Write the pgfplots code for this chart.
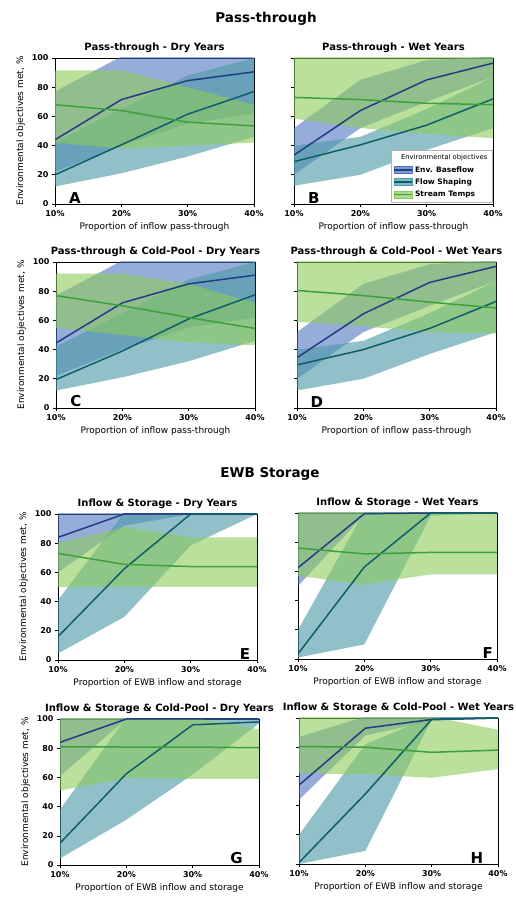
\documentclass[border=0pt]{standalone}
\usepackage{pgfplots}
\pgfplotsset{compat=1.18}
\usepackage{fontspec}
\setmainfont{DejaVu Sans}
\definecolor{cBl}{HTML}{233C82}
\definecolor{cBf}{HTML}{4A72C0}
\definecolor{cFl}{HTML}{0E5E6A}
\definecolor{cFf}{HTML}{4E9AA8}
\definecolor{cSl}{HTML}{3CA03C}
\definecolor{cSf}{HTML}{8CCB5A}
\pgfplotsset{
 panel/.style={
  scale only axis, width=199pt, height=146pt, anchor=south west,
  xmin=10,xmax=40,ymin=0,ymax=100,
  xtick={10,20,30,40}, xticklabels={10\%,20\%,30\%,40\%},
  ytick={0,20,40,60,80,100},
  tick align=outside, tick pos=left, major tick length=3pt,
  axis line style={line width=0.6pt},
  every tick/.style={black, line width=0.6pt},
  ticklabel style={font=\fontsize{8}{9}\selectfont\bfseries},
  /pgf/number format/assume math mode=true,
  title style={font=\fontsize{10}{11}\selectfont\bfseries, yshift=-4pt},
  label style={font=\fontsize{9}{10}\selectfont},
  xlabel style={yshift=1pt},
 },
 noyl/.style={yticklabels={}},
 yl/.style={ylabel={Environmental objectives met, \%}},
 bandB/.style={draw=none, fill=cBf, fill opacity=0.58, forget plot},
 bandF/.style={draw=none, fill=cFf, fill opacity=0.62, forget plot},
 bandS/.style={draw=none, fill=cSf, fill opacity=0.6, forget plot},
 lineB/.style={cBl, line width=1.5pt, forget plot},
 lineF/.style={cFl, line width=1.5pt, forget plot},
 lineS/.style={cSl, line width=1.5pt, forget plot},
}
\tikzset{letter/.style={font=\fontsize{15}{15}\selectfont\bfseries, anchor=south, inner sep=0pt}}
\begin{document}
\begin{tikzpicture}
\useasboundingbox (0pt,0pt) rectangle (516pt,899pt);
\node[font=\fontsize{13.5}{14}\selectfont\bfseries] at (266pt,880pt) {Pass-through};
\node[font=\fontsize{13.5}{14}\selectfont\bfseries] at (270pt,425pt) {EWB Storage};

% A
\begin{axis}[panel, at={(55pt,695pt)}, yl, title={Pass-through - Dry Years}, xlabel={Proportion of inflow pass-through}]
\addplot[bandB] coordinates {(10,77)(20,101)(30,108)(40,108)(40,62)(30,55)(20,40)(10,22)};
\addplot[bandF] coordinates {(10,42)(20,65)(30,88)(40,100)(40,46)(30,32.5)(20,21)(10,12)};
\addplot[bandS] coordinates {(10,91.5)(20,91.5)(30,80)(40,68)(40,42)(30,40)(20,38)(10,42)};
\addplot[lineB] coordinates {(10,44)(20,71.5)(30,84.5)(40,90.5)};
\addplot[lineF] coordinates {(10,20)(20,40.5)(30,61.5)(40,77)};
\addplot[lineS] coordinates {(10,68)(20,64)(30,56)(40,53.5)};
\node[letter] at (axis cs:13,0.5) {A};
\end{axis}

% B
\begin{axis}[panel, at={(294pt,695pt)}, noyl, title={Pass-through - Wet Years}, xlabel={Proportion of inflow pass-through},
 legend style={at={(rel axis cs:0.995,0.01)}, anchor=south east, font=\fontsize{7.5}{8}\selectfont\bfseries, draw=gray!60, inner sep=2.5pt, row sep=1pt},
 legend cell align=left]
\addplot[bandB] coordinates {(10,52)(20,85)(30,98.5)(40,101)(40,87)(30,70)(20,52)(10,20)};
\addplot[bandF] coordinates {(10,40)(20,46)(30,65)(40,87)(40,52)(30,37)(20,20)(10,12.5)};
\addplot[bandS] coordinates {(10,101)(20,101)(30,101)(40,101)(40,45)(30,48)(20,52)(10,58.5)};
\addplot[lineB] coordinates {(10,33.5)(20,64)(30,85)(40,96.5)};
\addplot[lineF] coordinates {(10,29)(20,40.5)(30,54)(40,72)};
\addplot[lineS] coordinates {(10,73)(20,71.5)(30,69)(40,68)};
\addlegendimage{empty legend}
\addlegendentry{\hspace{-14pt}\mdseries\fontsize{6.8}{7}\selectfont Environmental objectives}
\addlegendimage{legend image code/.code={\fill[cBf,fill opacity=0.7](0pt,-3.5pt) rectangle (18pt,3.5pt); \draw[cBl,line width=1.5pt](0pt,0pt)--(18pt,0pt);}}
\addlegendentry{Env. Baseflow}
\addlegendimage{legend image code/.code={\fill[cFf,fill opacity=0.7](0pt,-3.5pt) rectangle (18pt,3.5pt); \draw[cFl,line width=1.5pt](0pt,0pt)--(18pt,0pt);}}
\addlegendentry{Flow Shaping}
\addlegendimage{legend image code/.code={\fill[cSf,fill opacity=0.7](0pt,-3.5pt) rectangle (18pt,3.5pt); \draw[cSl,line width=1.5pt](0pt,0pt)--(18pt,0pt);}}
\addlegendentry{Stream Temps}
\node[letter] at (axis cs:13,0.5) {B};
\end{axis}

% C
\begin{axis}[panel, at={(56pt,491pt)}, yl, title={Pass-through \& Cold-Pool - Dry Years}, xlabel={Proportion of inflow pass-through}]
\addplot[bandB] coordinates {(10,77)(20,101)(30,108)(40,108)(40,62)(30,55)(20,40)(10,22)};
\addplot[bandF] coordinates {(10,42)(20,65)(30,88)(40,100)(40,46)(30,32)(20,21)(10,12)};
\addplot[bandS] coordinates {(10,92)(20,92)(30,85)(40,72)(40,43)(30,45)(20,50)(10,55)};
\addplot[lineB] coordinates {(10,44.5)(20,72)(30,85)(40,91)};
\addplot[lineF] coordinates {(10,19.5)(20,39)(30,61)(40,77.5)};
\addplot[lineS] coordinates {(10,77)(20,70)(30,62)(40,54.5)};
\node[letter] at (axis cs:13,0.5) {C};
\end{axis}

% D
\begin{axis}[panel, at={(297pt,491pt)}, noyl, title={Pass-through \& Cold-Pool - Wet Years}, xlabel={Proportion of inflow pass-through}]
\addplot[bandB] coordinates {(10,52)(20,85)(30,98.5)(40,101)(40,87)(30,70)(20,52)(10,20)};
\addplot[bandF] coordinates {(10,40)(20,46)(30,65)(40,87)(40,52)(30,37)(20,20)(10,12)};
\addplot[bandS] coordinates {(10,101)(20,101)(30,101)(40,101)(40,51)(30,52)(20,56)(10,59)};
\addplot[lineB] coordinates {(10,34.5)(20,64.5)(30,86)(40,97)};
\addplot[lineF] coordinates {(10,29.5)(20,40)(30,54.5)(40,73)};
\addplot[lineS] coordinates {(10,80.5)(20,77)(30,72.5)(40,68.5)};
\node[letter] at (axis cs:13,0.5) {D};
\end{axis}

% E
\begin{axis}[panel, at={(58pt,239pt)}, yl, title={Inflow \& Storage - Dry Years}, xlabel={Proportion of EWB inflow and storage}]
\addplot[bandB] coordinates {(10,101)(20,101)(30,101)(40,101)(40,100)(30,100)(20,92)(10,60)};
\addplot[bandF] coordinates {(10,41)(20,101)(30,101)(40,101)(40,100)(30,78.5)(20,29.5)(10,4.5)};
\addplot[bandS] coordinates {(10,80)(20,91)(30,84)(40,84)(40,50)(30,50)(20,50)(10,50)};
\addplot[lineB] coordinates {(10,84)(20,100)(30,100)(40,100)};
\addplot[lineF] coordinates {(10,16)(20,62.5)(30,100)(40,100)};
\addplot[lineS] coordinates {(10,73)(20,65.5)(30,64)(40,64)};
\node[letter] at (axis cs:38.2,0.5) {E};
\end{axis}

% F
\begin{axis}[panel, at={(298pt,240pt)}, noyl, title={Inflow \& Storage - Wet Years}, xlabel={Proportion of EWB inflow and storage}]
\addplot[bandB] coordinates {(10,101)(20,101)(30,101)(40,101)(40,100)(30,100)(20,99)(10,50)};
\addplot[bandF] coordinates {(10,20)(20,101)(30,101)(40,101)(40,100)(30,98)(20,10)(10,1)};
\addplot[bandS] coordinates {(10,101)(20,101)(30,101)(40,101)(40,58)(30,58)(20,51)(10,57)};
\addplot[lineB] coordinates {(10,62.5)(20,99.5)(30,100)(40,100)};
\addplot[lineF] coordinates {(10,3.5)(20,63)(30,100)(40,100)};
\addplot[lineS] coordinates {(10,76)(20,72)(30,73)(40,73)};
\node[letter] at (axis cs:38.6,0.5) {F};
\end{axis}

% G
\begin{axis}[panel, at={(60pt,34pt)}, yl, title={Inflow \& Storage \& Cold-Pool - Dry Years}, xlabel={Proportion of EWB inflow and storage}]
\addplot[bandB] coordinates {(10,101)(20,101)(30,101)(40,101)(40,100)(30,100)(20,100)(10,61)};
\addplot[bandF] coordinates {(10,38)(20,101)(30,101)(40,101)(40,97)(30,62)(20,31)(10,4.5)};
\addplot[bandS] coordinates {(10,101)(20,101)(30,101)(40,93)(40,59)(30,59)(20,59.5)(10,51)};
\addplot[lineB] coordinates {(10,84)(20,100)(30,100)(40,100)};
\addplot[lineF] coordinates {(10,15)(20,62.5)(30,96)(40,98)};
\addplot[lineS] coordinates {(10,81)(20,80.8)(30,80.8)(40,80.3)};
\node[letter] at (axis cs:36.6,0.5) {G};
\end{axis}

% H
\begin{axis}[panel, at={(299pt,35pt)}, noyl, title={Inflow \& Storage \& Cold-Pool - Wet Years}, xlabel={Proportion of EWB inflow and storage}]
\addplot[bandB] coordinates {(10,87)(20,101)(30,101)(40,101)(40,100)(30,98)(20,88)(10,44)};
\addplot[bandF] coordinates {(10,20)(20,82)(30,101)(40,101)(40,100)(30,99)(20,9)(10,0)};
\addplot[bandS] coordinates {(10,101)(20,101)(30,101)(40,92)(40,65)(30,59)(20,61.5)(10,62)};
\addplot[lineB] coordinates {(10,54)(20,93)(30,99)(40,100)};
\addplot[lineF] coordinates {(10,1)(20,48)(30,99)(40,100)};
\addplot[lineS] coordinates {(10,80.5)(20,80)(30,76.5)(40,78)};
\node[letter] at (axis cs:36.8,0.5) {H};
\end{axis}
\end{tikzpicture}
\end{document}
